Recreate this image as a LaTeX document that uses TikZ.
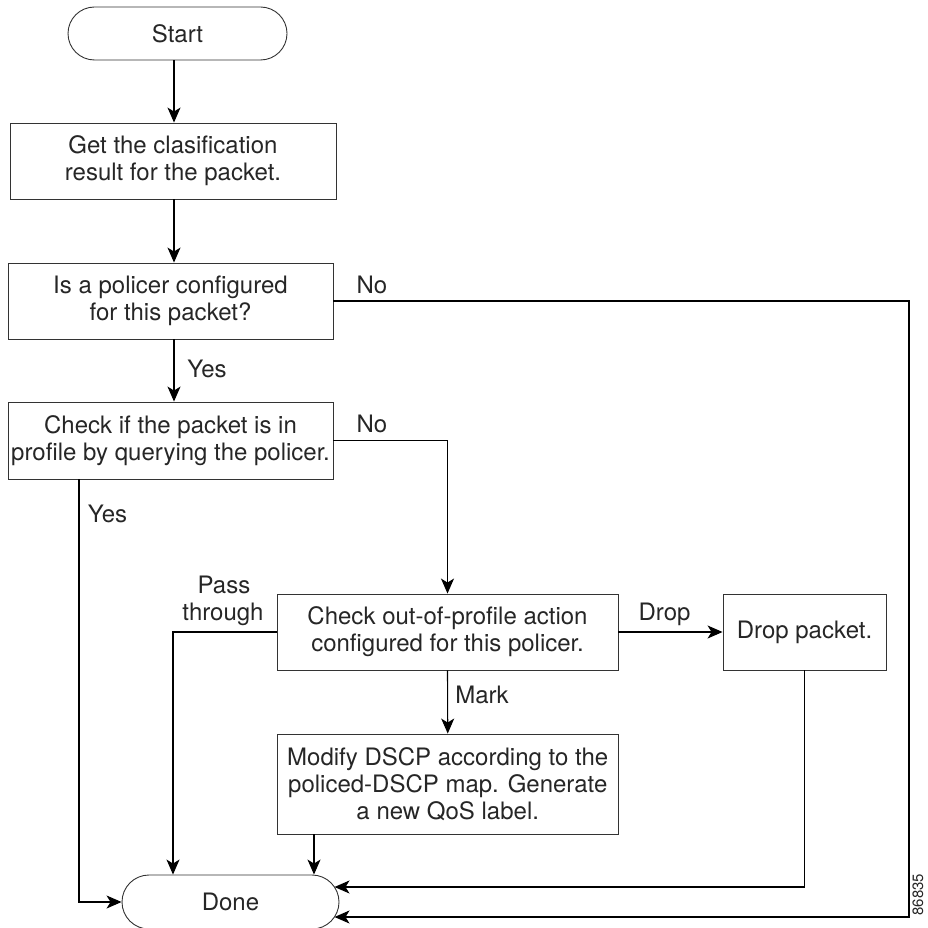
\documentclass[tikz,border=0pt]{standalone}
\usepackage{fontspec}
\setmainfont{TeX Gyre Heros}
\usetikzlibrary{arrows.meta,calc}
\newcommand\myfs{\fontsize{24}{27}\selectfont}
\tikzset{
  box/.style={draw=black!80, line width=0.9pt, inner sep=0pt, align=center, font=\myfs, text=black!85},
  term/.style={box, rounded corners=26.5pt},
  lbl/.style={inner sep=0pt, anchor=base, font=\myfs, text=black!85},
  arr/.style={line width=1.1pt, -{Stealth[length=15pt,width=13pt,inset=4pt]}}
}
\begin{document}
\begin{tikzpicture}[x=1pt,y=-1pt]
\useasboundingbox (0,0) rectangle (927,928);
% nodes
\node[term, minimum width=219pt, minimum height=53pt] (start) at (177.5,33.5) {Start};
\node[box, minimum width=326pt, minimum height=76pt] (get) at (173,161) {Get the clasification\\result for the packet.};
\node[box, minimum width=325pt, minimum height=76pt] (is) at (170.5,301) {Is a policer configured\\for this packet?};
\node[box, minimum width=325pt, minimum height=77pt] (chk) at (170.5,440.5) {Check if the packet is in\\profile by querying the policer.};
\node[box, minimum width=341pt, minimum height=76pt] (out) at (447.5,632) {Check out-of-profile action\\configured for this policer.};
\node[box, minimum width=163pt, minimum height=76pt] (drop) at (804.5,632) {Drop packet.};
\node[box, minimum width=340.5pt, minimum height=100pt] (mod) at (447.75,784) {Modify DSCP according to the\\policed-DSCP map. Generate\\a new QoS label.};
\node[term, rounded corners=27pt, minimum width=217pt, minimum height=54pt] (done) at (230.5,902) {Done};
% helper coordinates
\coordinate (axis) at (174,0);
\coordinate (yesx) at (79,0);
\coordinate (rx) at (909,0);
% connectors
\draw[arr] (start.south -| axis) -- (get.north -| axis);
\draw[arr] (get.south -| axis) -- (is.north -| axis);
\draw[arr] (is.south -| axis) -- (chk.north -| axis);
\draw[arr] (is.east) -- (is.east -| rx) |- ($(done.center)+(104,15)$);
\draw[arr] (chk.east) -| (out.north);
\draw[arr] (chk.south -| yesx) |- (done.west);
\draw[arr] (out.west) -| ([xshift=-57.5pt]done.north);
\draw[arr] (out.east) -- (drop.west);
\draw[arr] (out.south) -- (mod.north);
\draw[arr] ([xshift=83.5pt]done.north |- mod.south) -- ([xshift=83.5pt]done.north);
\draw[arr] (drop.south) |- ($(done.center)+(104,-15)$);
% labels
\node[lbl] (no1) at (372,293) {No};
\node[lbl] (yes1) at (207,377) {Yes};
\node[lbl] (no2) at (372,432) {No};
\node[lbl] (yes2) at (107.5,522) {Yes};
\node[lbl] (pass) at (224,593) {Pass};
\node[lbl] (thru) at (223,620) {through};
\node[lbl] (droplbl) at (664.5,620) {Drop};
\node[lbl] (mark) at (482,703) {Mark};
\node[inner sep=0pt, rotate=90, font=\fontsize{15}{16}\selectfont, text=black!85] (fig) at (918,894.5) {86835};
\end{tikzpicture}
\end{document}
